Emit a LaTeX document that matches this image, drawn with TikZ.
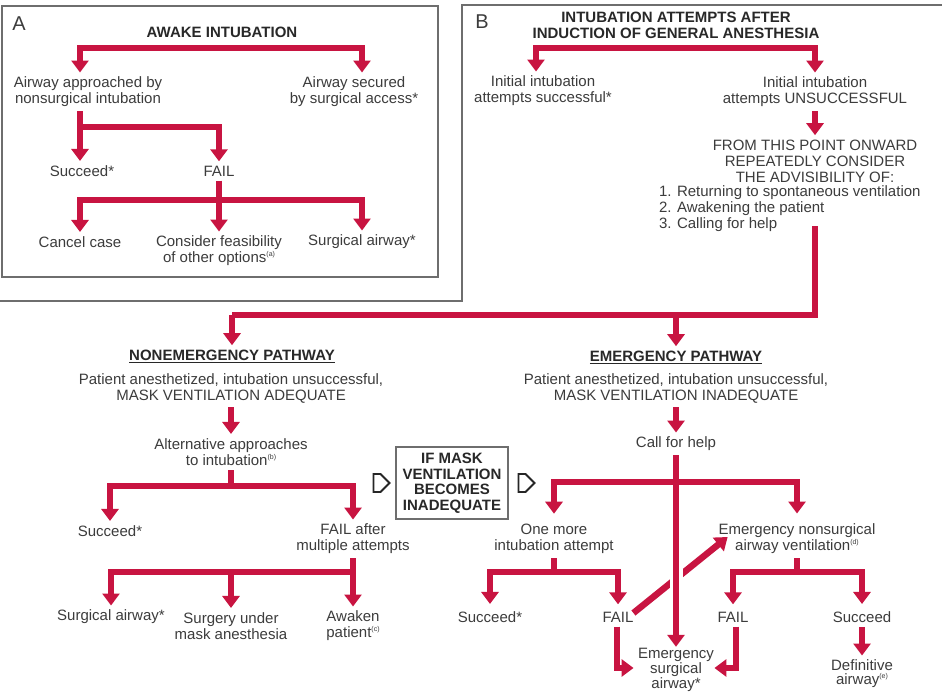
\documentclass[tikz,border=0pt]{standalone}
\usepackage{fontspec}
\setmainfont{Liberation Sans}
\usetikzlibrary{arrows.meta}
\definecolor{flowred}{RGB}{200,20,65}
\definecolor{txt}{RGB}{60,60,60}
\definecolor{ttltxt}{RGB}{40,40,40}
\definecolor{frame}{RGB}{110,110,110}
\newcommand{\supnote}[1]{\raisebox{0.75ex}{\fontsize{7}{7}\selectfont(#1)}}
\begin{document}
\begin{tikzpicture}[x=1pt,y=-1pt,
  lbl/.style={align=center, inner sep=0pt, outer sep=4.5pt, text=txt, font=\fontsize{15}{16}\selectfont},
  ttl/.style={lbl, text=ttltxt, font=\fontsize{15}{16}\selectfont\bfseries},
  panel/.style={font=\fontsize{20}{22}\selectfont, text=txt, inner sep=0pt},
  bar/.style={draw=flowred, line width=6.5pt},
  flow/.style={bar, -{Triangle[width=17pt,length=12pt]}},
  flow2/.style={bar, {Triangle[width=17pt,length=12pt]}-{Triangle[width=17pt,length=12pt]}},
  frm/.style={draw=frame, line width=1.5pt},
  ptr/.style={draw=black!85, line width=1.8pt, line join=miter, fill=white}
]
\fill[white] (0,0) rectangle (942,692);
\useasboundingbox (0,0) rectangle (942,692);

% ---------- frames ----------
\draw[frm] (2,6) rectangle (438,277);
\draw[frm] (0,301) -- (462,301) -- (462,5) -- (942,5);

% ---------- panel A ----------
\node[panel] (labA) at (19,24) {A};
\node[ttl] (awake) at (222,32) {AWAKE INTUBATION};
\node[lbl] (nonsurg) at (88,92) {Airway approached by\\nonsurgical intubation};
\node[lbl] (secured) at (354,92) {Airway secured\\by surgical access*};
\node[lbl] (succA) at (82,171) {Succeed*};
\node[lbl] (failA) at (219,171) {FAIL};
\node[lbl] (cancel) at (80,242) {Cancel case};
\node[lbl] (consider) at (219,251) {Consider feasibility\\of other options\supnote{a}};
\node[lbl] (surgA) at (362,242) {Surgical airway*};

\coordinate (barA) at (222,48);
\coordinate (jA1) at (80,127);
\coordinate (jA2) at (219,200);
\draw[flow2] ([xshift=-8pt]nonsurg.north) |- (barA) -| ([xshift=8pt]secured.north);
\draw[flow] ([xshift=-8pt]nonsurg.south) -- ([xshift=-8pt]nonsurg.south |- succA.north);
\draw[flow] (jA1) -| (failA.north);
\draw[flow] (failA.south) -- (consider.north);
\draw[flow2] (cancel.north) |- (jA2) -| (surgA.north);

% ---------- panel B ----------
\node[panel] (labB) at (482,22) {B};
\node[ttl] (intub) at (676,25) {INTUBATION ATTEMPTS AFTER\\INDUCTION OF GENERAL ANESTHESIA};
\node[lbl] (initS) at (543,91) {Initial intubation\\attempts successful*};
\node[lbl] (initU) at (815,92) {Initial intubation\\attempts UNSUCCESSFUL};
\node[lbl] (from) at (815,161) {FROM THIS POINT ONWARD\\REPEATEDLY CONSIDER\\THE ADVISIBILITY OF:};
\node[lbl, anchor=west, align=left] (list) at (654.5,209) {1. Returning to spontaneous ventilation\\2. Awakening the patient\\3. Calling for help};

\coordinate (barB0) at (676,48);
\coordinate (barB1) at (232,315);
\draw[flow2] ([xshift=-7pt]initS.north) |- (barB0) -| (initU.north);
\draw[flow] (initU.south) -- (from.north);

% ---------- nonemergency pathway ----------
\node[ttl] (nonemerg) at (232,356) {\underline{NONEMERGENCY PATHWAY}};
\node[lbl] (patA) at (231,388) {Patient anesthetized, intubation unsuccessful,\\MASK VENTILATION ADEQUATE};
\node[lbl] (altern) at (231,452) {Alternative approaches\\to intubation\supnote{b}};
\node[lbl] (succB) at (110,531) {Succeed*};
\node[lbl] (failM) at (353,539) {FAIL after\\multiple attempts};
\node[lbl] (surgB) at (111,617) {Surgical airway*};
\node[lbl] (surgmask) at (231,626) {Surgery under\\mask anesthesia};
\node[lbl] (awaken) at (353,626) {Awaken\\patient\supnote{c}};

% ---------- emergency pathway ----------
\node[ttl] (emerg) at (676,357) {\underline{EMERGENCY PATHWAY}};
\node[lbl] (patE) at (676,388) {Patient anesthetized, intubation unsuccessful,\\MASK VENTILATION INADEQUATE};
\node[lbl] (callhelp) at (676,444) {Call for help};
\node[lbl] (onemore) at (554,539) {One more\\intubation attempt};
\node[lbl] (enons) at (797,539) {Emergency nonsurgical\\airway ventilation\supnote{d}};
\node[lbl] (succE) at (490,617) {Succeed*};
\node[lbl] (failE) at (618,617) {FAIL};
\node[lbl] (failE2) at (733,617) {FAIL};
\node[lbl] (succE2) at (862,617) {Succeed};
\node[lbl, font=\fontsize{15}{13}\selectfont] (esa) at (676,670) {Emergency\\surgical\\airway*};
\node[lbl, font=\fontsize{15}{14}\selectfont] (defin) at (862,674) {Definitive\\airway\supnote{e}};

% ---------- middle box ----------
\node[ttl, draw=frame, line width=1.5pt, inner sep=0pt, minimum width=112pt, minimum height=72pt,
      font=\fontsize{15}{15.5}\selectfont\bfseries] (ifmask) at (452,483) {IF MASK\\VENTILATION\\BECOMES\\INADEQUATE};
\draw[ptr] ([xshift=-18pt,yshift=9pt]ifmask.west) -- ++(7,0) -- ++(9,9) -- ++(-9,9) -- ++(-7,0) -- cycle;
\draw[ptr] ([xshift=6pt,yshift=9pt]ifmask.east) -- ++(7,0) -- ++(9,9) -- ++(-9,9) -- ++(-7,0) -- cycle;

% ---------- connectors B ----------
\draw[bar] ([yshift=10pt]from |- list.south) |- (barB1);
\draw[flow] (barB1) -- (nonemerg.north);
\draw[flow] (emerg.north |- barB1) -- (emerg.north);

\coordinate (jN1) at (231,486);
\coordinate (jN2) at (353,572);
\draw[flow] (patA.south) -- (altern.north);
\draw[bar] (altern.south) -- (jN1);
\draw[flow2] (succB.north) |- (jN1) -| (failM.north);
\draw[flow] (failM.south) -- (awaken.north);
\draw[flow] (jN2) -| (surgB.north);
\draw[flow] (surgmask.north |- jN2) -- (surgmask.north);

\coordinate (jE1) at (676,482);
\coordinate (jE2) at (554,572);
\coordinate (jE3) at (797,572);
\draw[flow] (patE.south) -- (callhelp.north);
\draw[flow] ([xshift=-4.5pt,yshift=4pt]failE.east) -- ([xshift=13.5pt,yshift=2pt]enons.west);
\draw[white, line width=13pt] (676,565) -- (676,591);
\draw[flow] (callhelp.south) -- ([yshift=-3pt]esa.north);
\draw[flow2] ([yshift=6pt]onemore.north) |- (jE1) -| ([yshift=6pt]enons.north);
\draw[bar] (onemore.south) -- (jE2);
\draw[flow2] ([yshift=3pt]succE.north) |- (jE2) -| ([yshift=3pt]failE.north);
\draw[bar] (enons.south) -- (jE3);
\draw[flow2] ([yshift=3pt]failE2.north) |- (jE3) -| ([yshift=3pt]succE2.north);
\draw[flow] ([xshift=-1pt]failE.south) |- ([yshift=2pt]esa.west);
\draw[flow] ([xshift=3pt]failE2.south) |- ([xshift=-4pt,yshift=2pt]esa.east);
\draw[flow] (succE2.south) -- (defin.north);
\end{tikzpicture}
\end{document}
